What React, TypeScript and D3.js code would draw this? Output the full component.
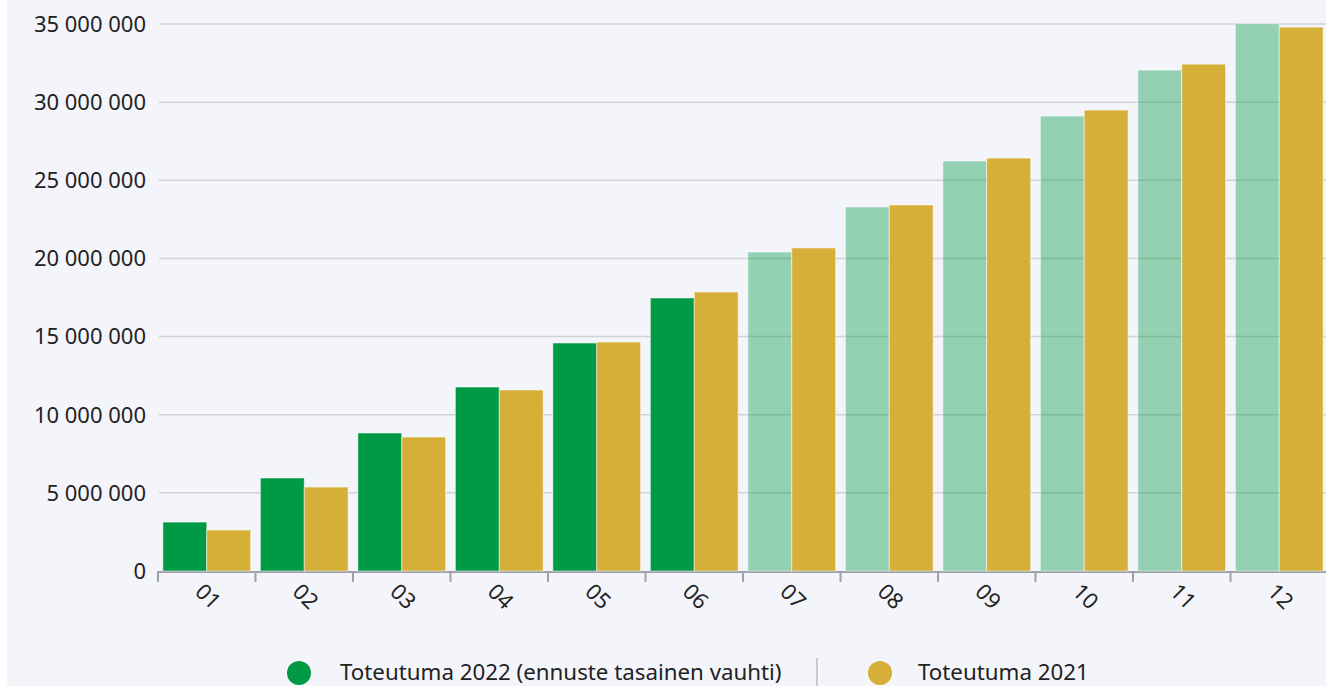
import React from 'react';
import * as d3 from 'd3';

const months = ['01', '02', '03', '04', '05', '06', '07', '08', '09', '10', '11', '12'];
// cumulative totals, 2022 realized up to June, then even-pace forecast
const total2022 = [3130000, 5950000, 8830000, 11770000, 14590000, 17470000, 20410000, 23290000, 26230000, 29110000, 32050000, 35000000];
const total2021 = [2620000, 5370000, 8570000, 11580000, 14650000, 17850000, 20670000, 23420000, 26420000, 29490000, 32430000, 34800000];
const realizedCount = 6;
const yTicks = [0, 5000000, 10000000, 15000000, 20000000, 25000000, 30000000, 35000000];
const legendLabels = ['Toteutuma 2022 (ennuste tasainen vauhti)', 'Toteutuma 2021'];

const GREEN = '#009a44';
const GOLD = '#d5af37';
const FONT = '"Noto Sans", "Open Sans", sans-serif';

const W = 1326;
const H = 686;
const left = 158;
const right = 1328;
const top = 24;
const bottom = 571;

const fiLocale = d3.formatLocale({ decimal: ',', thousands: ' ', grouping: [3], currency: ['', ' €'] });
const fmt = fiLocale.format(',');

export default function App() {
  const x = d3.scaleBand().domain(months).range([left, right]).padding(0);
  const bw = x.bandwidth();
  const x1 = d3.scaleBand().domain(['2022', '2021']).range([bw * 0.05, bw * 0.95]).padding(0);
  const y = d3.scaleLinear().domain([0, 35000000]).range([bottom, top]);

  return (
    <svg width={W} height={H} style={{ position: 'absolute', left: 0, top: 0 }} fontFamily={FONT}>
      <rect x={7} y={0} width={W - 7} height={H} fill="#f4f5fa" />
      {/* gridlines + y labels */}
      {yTicks.map(t => (
        <g key={t}>
          {t > 0 && <line x1={left + 1} x2={W} y1={y(t)} y2={y(t)} stroke="#d0d2d8" strokeWidth={1.5} />}
          <text x={146} y={y(t)} dy="0.36em" textAnchor="end" fontSize={22} fill="#222">{fmt(t)}</text>
        </g>
      ))}

      {/* x axis line, below the bars */}
      <line x1={left} x2={W} y1={bottom + 1} y2={bottom + 1} stroke="#9ea2a8" strokeWidth={2} />

      {/* bars */}
      {months.map((m, i) => (
        <g key={m} transform={`translate(${x(m)},0)`}>
          <rect x={x1('2022')} y={y(total2022[i])} width={x1.bandwidth()} height={bottom - y(total2022[i])}
            fill={GREEN} fillOpacity={i < realizedCount ? 1 : 0.4} stroke="#ffffff" strokeOpacity={0.5} strokeWidth={1} />
          <rect x={x1('2021')} y={y(total2021[i])} width={x1.bandwidth()} height={bottom - y(total2021[i])}
            fill={GOLD} stroke="#ffffff" strokeOpacity={0.5} strokeWidth={1} />
        </g>
      ))}

      {/* ticks + labels */}
      {months.map(m => (
        <line key={'t' + m} x1={x(m)} x2={x(m)} y1={bottom} y2={bottom + 11} stroke="#9ea2a8" strokeWidth={2} />
      ))}
      {months.map(m => (
        <text key={'l' + m} transform={`translate(${x(m) + bw / 2 - 2},${bottom + 11}) rotate(45)`}
          fontSize={22} fill="#222" dy="0.7em">{m}</text>
      ))}

      {/* legend */}
      <circle cx={299} cy={673} r={12} fill={GREEN} />
      <text x={340} y={672} dy="0.36em" fontSize={22.3} fill="#222">{legendLabels[0]}</text>
      <line x1={817} x2={817} y1={658} y2={686} stroke="#c8cace" strokeWidth={2} />
      <circle cx={880} cy={673} r={12} fill={GOLD} />
      <text x={918} y={672} dy="0.36em" fontSize={22.3} fill="#222">{legendLabels[1]}</text>
    </svg>
  );
}
